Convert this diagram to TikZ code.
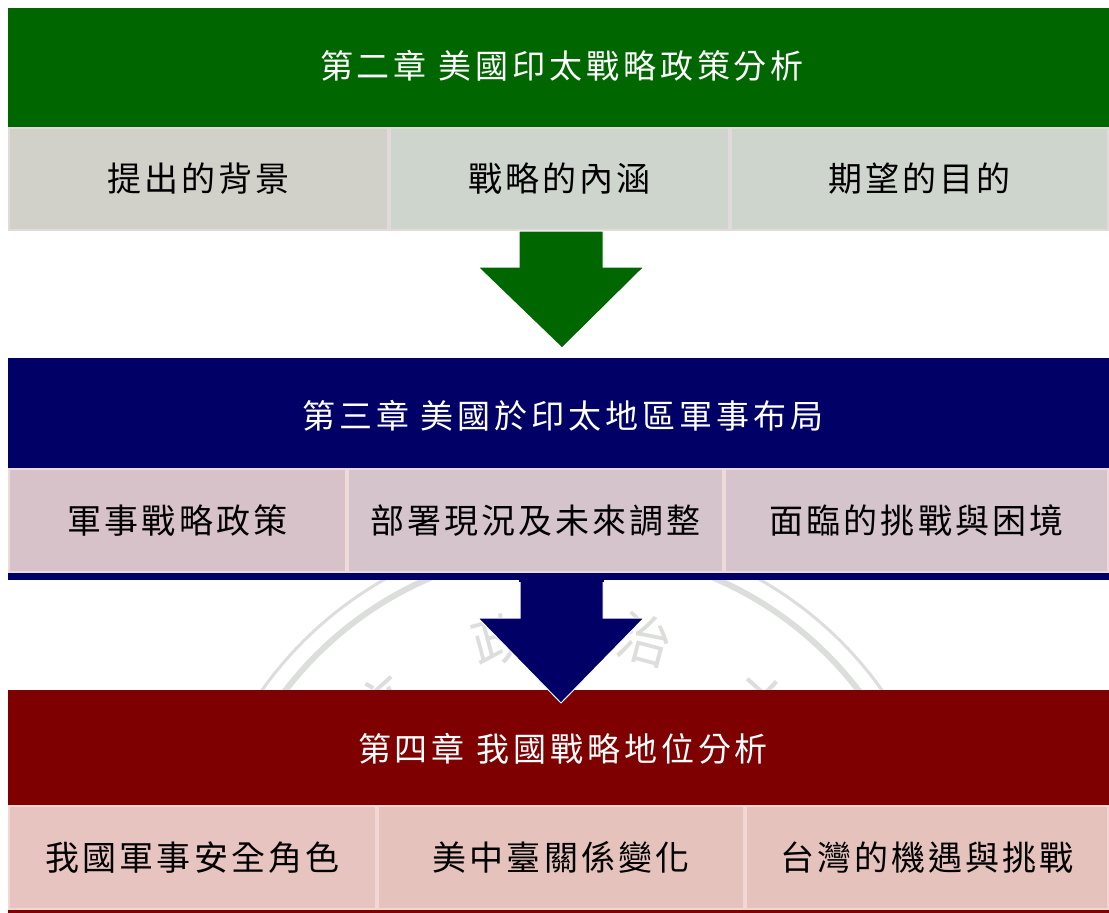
\documentclass[tikz,border=0pt]{standalone}
\usepackage{fontspec}
\usetikzlibrary{calc}
\newfontfamily\cjk{Noto Sans CJK TC}
\definecolor{gBand}{HTML}{006600}
\definecolor{bBand}{HTML}{000066}
\definecolor{rBand}{HTML}{7F0000}
\definecolor{gCellA}{HTML}{D1D1C9}
\definecolor{gCellB}{HTML}{CDD5CD}
\definecolor{gLine}{HTML}{E2DADA}
\definecolor{bCellA}{HTML}{D8C2C9}
\definecolor{bCellB}{HTML}{D5C4CC}
\definecolor{bLine}{HTML}{EEDAD8}
\definecolor{rCellA}{HTML}{E8C4C0}
\definecolor{rCellB}{HTML}{E6C2BD}
\definecolor{rLine}{HTML}{F2D8D5}
\definecolor{sealGray}{HTML}{DCDEDC}
\tikzset{
  ttl/.style={text=white, inner sep=0pt, font={\cjk\fontsize{33}{38}\selectfont\addfontfeatures{LetterSpace=12}}},
  cellbox/.style={draw=#1, line width=2pt, inner sep=0pt, text=black,
     font={\cjk\fontsize{34}{40}\selectfont\addfontfeatures{LetterSpace=9}}},
  sealring/.style={draw=sealGray},
  sealchar/.style={text=sealGray, inner sep=0pt, font={\cjk\fontsize{54}{60}\selectfont}},
  bigarrow/.style={draw=white, line width=1pt, line join=miter}
}
\begin{document}
\begin{tikzpicture}[x=1pt,y=-1pt]
\useasboundingbox (0,0) rectangle (1109,913);
\fill[white] (0,0) rectangle (1109,913);

% watermark seal
\coordinate (sealc) at (572,910);
\draw[sealring, line width=3pt] (sealc) circle[radius=380];
\draw[sealring, line width=6pt] (sealc) circle[radius=361];
\node[sealchar, rotate=42] (s1) at ($(sealc)+(-132:282)$) {立};
\node[sealchar, rotate=15] (s2) at ($(sealc)+(-105:280)$) {政};
\node[sealchar, rotate=-15] (s3) at ($(sealc)+(-75:280)$) {治};
\node[sealchar, rotate=-42] (s4) at ($(sealc)+(-48:282)$) {大};

% chapter 2
\fill[gBand] (8,8) rectangle (1109,127);
\node[ttl] (t2) at (562,66) {第二章 美國印太戰略政策分析};
\node[cellbox=gLine, fill=gCellA, minimum width=379, minimum height=102] (c21) at (198.5,179) {提出的背景};
\node[cellbox=gLine, fill=gCellB, minimum width=339, minimum height=102] (c22) at (559.5,179) {戰略的內涵};
\node[cellbox=gLine, fill=gCellB, minimum width=377, minimum height=102] (c23) at (919.5,179) {期望的目的};

% chapter 3
\fill[bBand] (8,358) rectangle (1109,580);
\node[ttl] (t3) at (563,416) {第三章 美國於印太地區軍事布局};
\node[cellbox=bLine, fill=bCellA, minimum width=337, minimum height=103] (c31) at (177.5,520.5) {軍事戰略政策};
\node[cellbox=bLine, fill=bCellB, minimum width=375, minimum height=103] (c32) at (535.5,520.5) {部署現況及未來調整};
\node[cellbox=bLine, fill=bCellB, minimum width=383, minimum height=103] (c33) at (916.5,520.5) {面臨的挑戰與困境};

% chapter 4
\fill[rBand] (8,690) rectangle (1109,913);
\node[ttl] (t4) at (563,749) {第四章 我國戰略地位分析};
\node[cellbox=rLine, fill=rCellA, minimum width=367, minimum height=103] (c41) at (192.5,857.5) {我國軍事安全角色};
\node[cellbox=rLine, fill=rCellB, minimum width=366, minimum height=103] (c42) at (561,857.5) {美中臺關係變化};
\node[cellbox=rLine, fill=rCellB, minimum width=362, minimum height=103] (c43) at (927,857.5) {台灣的機遇與挑戰};

% arrows
\coordinate (ga) at (562,231);
\coordinate (ba) at (561,580);
\fill[gBand, bigarrow] ($(ga)+(-43,0)$) -- ++(84,0) -- ++(0,36) -- ++(41,0) -- ($(ga)+(0,117)$) -- ($(ga)+(-84,36)$) -- ++(41,0) -- cycle;
\fill[bBand, bigarrow] ($(ba)+(-41,0)$) -- ++(83,0) -- ++(0,38) -- ++(41,0) -- ($(ba)+(0,123)$) -- ($(ba)+(-83,38)$) -- ++(42,0) -- cycle;
\fill[bBand] ($(ba)+(-42,-6)$) rectangle ($(ba)+(43,2)$);
\end{tikzpicture}
\end{document}
